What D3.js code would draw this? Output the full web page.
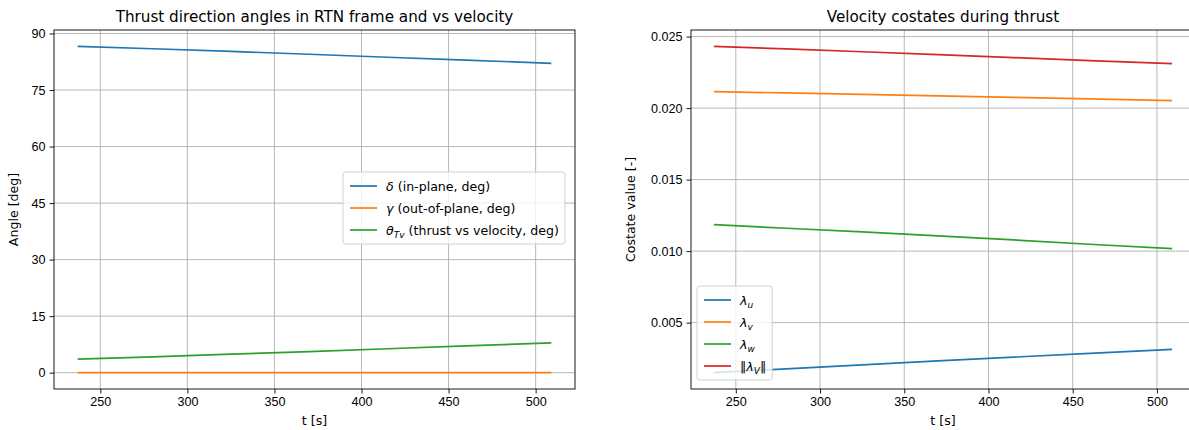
<!DOCTYPE html>
<html>
<head>
<meta charset="utf-8">
<script src="https://cdn.jsdelivr.net/npm/d3@7"></script>
<style>
  body { margin: 0; background: #fff; }
  svg { font-family: "DejaVu Sans", sans-serif; display: block; }
  .tick text { font-size: 12.6px; fill: #000; }
</style>
</head>
<body>
<div id="chart"></div>
<script>
// time samples during thrust arc [s]
var tSec = [237, 280, 325, 370, 415, 460, 509];

// thrust angles [deg]
var deltaDeg = [86.6, 85.95, 85.25, 84.5, 83.7, 82.95, 82.1];
var gammaDeg = [0, 0, 0, 0, 0, 0, 0];
var thetaDeg = [3.6, 4.2, 4.9, 5.6, 6.35, 7.1, 7.9];

// velocity costates [-]
var lamU = [0.00150, 0.00177, 0.00204, 0.00232, 0.00259, 0.00285, 0.00313];
var lamV = [0.02115, 0.02106, 0.02096, 0.02086, 0.02075, 0.02064, 0.02052];
var lamW = [0.01185, 0.01160, 0.01134, 0.01107, 0.01078, 0.01048, 0.01017];
var lamNorm = [0.02432, 0.02414, 0.02394, 0.02374, 0.02353, 0.02332, 0.02311];

var angleTicks = [0, 15, 30, 45, 60, 75, 90];
var costateTicks = [0.005, 0.010, 0.015, 0.020, 0.025];
var timeTicks = [250, 300, 350, 400, 450, 500];

var width = 1189, height = 430;
var fs = 12.6;
var svg = d3.select("#chart").append("svg")
    .attr("width", width)
    .attr("height", height);

// matplotlib-ish padded extent
function padExtent(arrs) {
    var all = [].concat.apply([], arrs);
    var lo = d3.min(all), hi = d3.max(all);
    var m = (hi - lo) * 0.05;
    return [lo - m, hi + m];
}

function drawPanel(opt) {
    var g = svg.append("g");
    var x = d3.scaleLinear().domain(padExtent([tSec])).range([opt.x0, opt.x1]);
    var y = d3.scaleLinear().domain(padExtent(opt.series.map(s => s.values))).range([opt.y1, opt.y0]);

    // grid
    g.selectAll(".vgrid").data(timeTicks).enter().append("line")
        .attr("x1", d => x(d)).attr("x2", d => x(d))
        .attr("y1", opt.y0).attr("y2", opt.y1)
        .attr("stroke", "#b0b0b0").attr("stroke-width", 0.9);
    g.selectAll(".hgrid").data(opt.yTicks).enter().append("line")
        .attr("x1", opt.x0).attr("x2", opt.x1)
        .attr("y1", d => y(d)).attr("y2", d => y(d))
        .attr("stroke", "#b0b0b0").attr("stroke-width", 0.9);

    // lines
    var line = d3.line().x((d, i) => x(tSec[i])).y(d => y(d));
    opt.series.forEach(function(s) {
        g.append("path")
            .datum(s.values)
            .attr("d", line)
            .attr("fill", "none")
            .attr("stroke", s.color)
            .attr("stroke-width", 1.7);
    });

    // axes
    var xAxis = d3.axisBottom(x).tickValues(timeTicks).tickSize(4.5).tickPadding(4);
    var yAxis = d3.axisLeft(y).tickValues(opt.yTicks).tickSize(4.5).tickPadding(4).tickFormat(opt.fmt);
    var gx = g.append("g").attr("transform", "translate(0," + opt.y1 + ")").call(xAxis);
    var gy = g.append("g").attr("transform", "translate(" + opt.x0 + ",0)").call(yAxis);
    [gx, gy].forEach(a => {
        a.select(".domain").remove();
        a.selectAll(".tick line").attr("stroke", "#000").attr("stroke-width", 0.9);
    });

    // spines
    g.append("rect")
        .attr("x", opt.x0).attr("y", opt.y0)
        .attr("width", opt.x1 - opt.x0).attr("height", opt.y1 - opt.y0)
        .attr("fill", "none").attr("stroke", "#000").attr("stroke-width", 0.9);

    // labels
    g.append("text").attr("x", (opt.x0 + opt.x1) / 2).attr("y", 22)
        .attr("text-anchor", "middle").attr("font-size", 15.2).text(opt.title);
    g.append("text").attr("x", (opt.x0 + opt.x1) / 2).attr("y", 425)
        .attr("text-anchor", "middle").attr("font-size", fs).text("t [s]");
    g.append("text")
        .attr("transform", "translate(" + opt.ylabX + "," + ((opt.y0 + opt.y1) / 2) + ") rotate(-90)")
        .attr("text-anchor", "middle").attr("font-size", fs).text(opt.ylabel);

    // legend
    var lg = g.append("g");
    var frame = lg.append("rect")
        .attr("fill", "#fff").attr("fill-opacity", 0.8)
        .attr("stroke", "#cccccc").attr("stroke-width", 0.9)
        .attr("rx", 3);
    opt.series.forEach(function(s, i) {
        var yy = opt.legY + i * 22;
        lg.append("line")
            .attr("x1", opt.legX + 7).attr("x2", opt.legX + 34)
            .attr("y1", yy).attr("y2", yy)
            .attr("stroke", s.color).attr("stroke-width", 1.7);
        var t = lg.append("text").attr("x", opt.legX + 43).attr("y", yy + 4.5)
            .attr("font-size", fs);
        s.label(t);
    });
    var bb = lg.node().getBBox();
    frame.attr("x", opt.legX).attr("y", opt.legY - 14)
        .attr("width", bb.x + bb.width - opt.legX + 6)
        .attr("height", opt.series.length * 22 + 6);
}

function mathLabel(main, sub, rest, pre, post) {
    return function(t) {
        if (pre) t.append("tspan").text(pre);
        t.append("tspan").attr("font-style", "italic").text(main);
        if (sub) t.append("tspan").attr("font-style", "italic").attr("font-size", 9)
            .attr("dy", 3).text(sub);
        if (post) t.append("tspan").attr("dy", sub ? -3 : 0).text(post);
        if (rest) t.append("tspan").attr("dy", sub && !post ? -3 : 0).text(rest);
    };
}

drawPanel({
    x0: 54, x1: 575, y0: 30, y1: 389,
    title: "Thrust direction angles in RTN frame and vs velocity",
    ylabel: "Angle [deg]", ylabX: 18,
    yTicks: angleTicks, fmt: d3.format("d"),
    legX: 343, legY: 186,
    series: [
        { values: deltaDeg, color: "#1f77b4", label: mathLabel("δ", null, " (in-plane, deg)") },
        { values: gammaDeg, color: "#ff7f0e", label: mathLabel("γ", null, " (out-of-plane, deg)") },
        { values: thetaDeg, color: "#2ca02c", label: mathLabel("θ", "Tv", " (thrust vs velocity, deg)") }
    ]
});

drawPanel({
    x0: 691, x1: 1195, y0: 30, y1: 389,
    title: "Velocity costates during thrust",
    ylabel: "Costate value [-]", ylabX: 635,
    yTicks: costateTicks, fmt: d3.format(".3f"),
    legX: 697, legY: 300,
    series: [
        { values: lamU, color: "#1f77b4", label: mathLabel("λ", "u") },
        { values: lamV, color: "#ff7f0e", label: mathLabel("λ", "v") },
        { values: lamW, color: "#2ca02c", label: mathLabel("λ", "w") },
        { values: lamNorm, color: "#d62728", label: mathLabel("λ", "V", null, "‖", "‖") }
    ]
});
</script>
</body>
</html>
